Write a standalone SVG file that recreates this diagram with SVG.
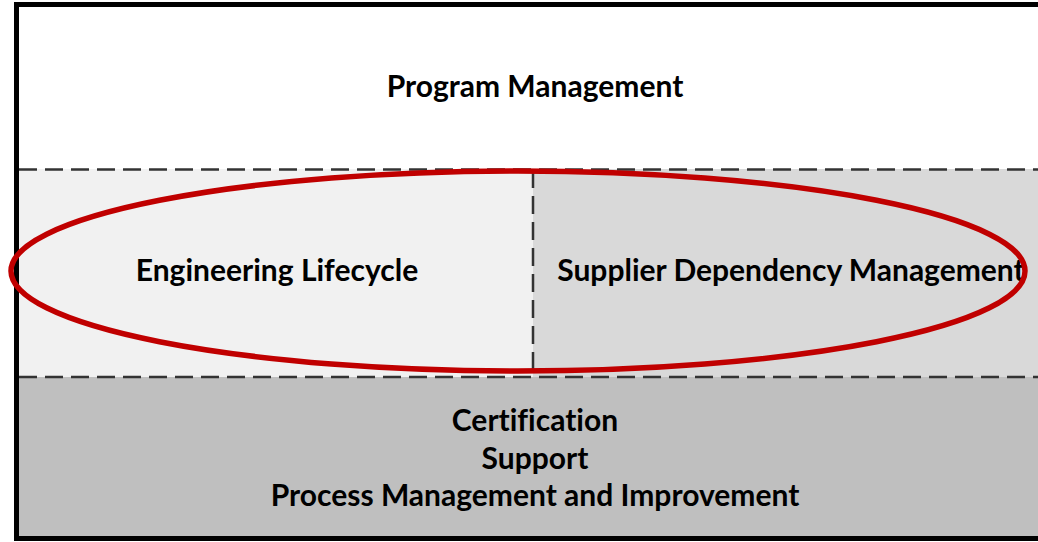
<svg xmlns="http://www.w3.org/2000/svg" width="1038" height="542" viewBox="0 0 1038 542">
<style>
.lbl{font-family:Lato,"Open Sans","Liberation Sans",sans-serif;font-weight:bold;font-size:30px;fill:#000;text-anchor:middle;font-variant-ligatures:none}
.dash{stroke:#333;stroke-width:2.5;stroke-dasharray:18 8;fill:none}
</style>
<rect x="0" y="0" width="1038" height="542" fill="#fff"/>
<g id="program-management">
<rect x="17" y="5" width="1030" height="164" fill="#fff"/>
<text class="lbl" x="535" y="97">Program Management</text>
</g>
<g id="engineering-lifecycle">
<rect x="17" y="169" width="516" height="208" fill="#f1f1f1"/>
<text class="lbl" x="277" y="281">Engineering Lifecycle</text>
</g>
<g id="supplier-dependency-management">
<rect x="533" y="169" width="510" height="208" fill="#d9d9d9"/>
<text class="lbl" x="791" y="281">Supplier Dependency Management</text>
</g>
<g id="support-processes">
<rect x="17" y="377" width="1030" height="162" fill="#bfbfbf"/>
<text class="lbl" x="535" y="431">Certification</text>
<text class="lbl" x="535" y="469">Support</text>
<text class="lbl" x="535" y="506">Process Management and Improvement</text>
</g>
<g id="connectors">
<line class="dash" x1="19" y1="169.5" x2="1038" y2="169.5"/>
<line class="dash" x1="19" y1="377" x2="1038" y2="377"/>
<line class="dash" x1="533" y1="170" x2="533" y2="377"/>
</g>
<rect x="16.5" y="4.5" width="1030" height="534" fill="none" stroke="#000" stroke-width="5"/>
<ellipse id="highlight" cx="518" cy="271" rx="507" ry="100" fill="none" stroke="#c00000" stroke-width="5.5"/>
</svg>
